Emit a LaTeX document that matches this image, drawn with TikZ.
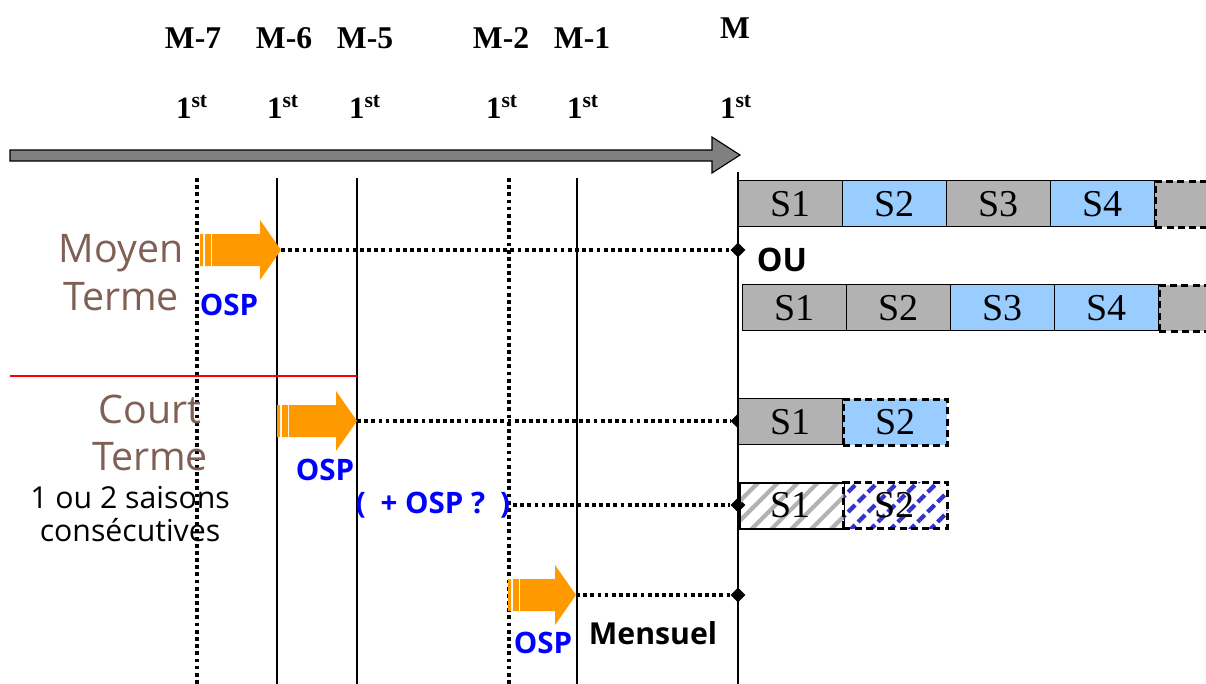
\documentclass[tikz,border=0pt]{standalone}
\usepackage{fontspec}
\setmainfont{Liberation Serif}
\newfontfamily\sansf{Open Sans}
\usetikzlibrary{shapes.geometric,patterns.meta}

\definecolor{segris}{HTML}{B2B2B2}
\definecolor{sebleu}{HTML}{99CCFF}
\definecolor{osporange}{HTML}{FF9900}
\definecolor{termebrun}{HTML}{806055}
\definecolor{hachbleu}{HTML}{3333CC}

\tikzset{
  saison/.style={draw, line width=0.9pt, anchor=north west, inner sep=0pt,
    minimum width=2.6cm, minimum height=1.15cm,
    font=\fontsize{27}{27}\selectfont},
  gris/.style={saison, fill=segris},
  bleu/.style={saison, fill=sebleu},
  suite/.style={saison, fill=segris, line width=2pt, dash pattern=on 5pt off 3pt},
  mois/.style={font=\bfseries\fontsize{22.5}{22.5}\selectfont},
  jour/.style={font=\bfseries\fontsize{22}{22}\selectfont},
  pointille/.style={line width=2.7pt, dash pattern=on 2.7pt off 2.4pt},
  repere/.style={diamond, fill=black, inner sep=0pt, minimum size=0.38cm},
  osplabel/.style={text=blue, font=\sansf\bfseries\fontsize{21}{21}\selectfont},
}

% orange arrow: start x, tip x, y
\newcommand\osp[3]{%
  \fill[osporange] (#1,#3-16) rectangle ++(3,32)
    (#1+5,#3-16) rectangle ++(6,32)
    (#1+12,#3-16) -- (#2-21,#3-16) -- (#2-21,#3-30) -- (#2,#3)
    -- (#2-21,#3+30) -- (#2-21,#3+16) -- (#1+12,#3+16) -- cycle;}

\begin{document}
\begin{tikzpicture}[x=0.025cm, y=-0.025cm]
  \clip (0,0) rectangle (1206,684);

  % time axis
  \draw[fill=gray, line width=0.8pt] (10,150) -- (712,150) -- (712,137) -- (740,155)
    -- (712,173) -- (712,161) -- (10,161) -- cycle;

  \foreach \x/\m/\yy in {193/M-7/38, 284/M-6/38, 365/M-5/38, 501/M-2/38, 582/M-1/38, 735/M/28}{
    \node[mois] at (\x,\yy) {\m};
  }
  \foreach \x in {192,283,365,502,583,736}{
    \node[jour] at (\x,107) {1\textsuperscript{st}};
  }

  % month lines
  \foreach \x in {197,509}{
    \draw[pointille] (\x,178) -- (\x,684);
  }
  \foreach \x in {277,357,577}{
    \draw[line width=2.1pt] (\x,178) -- (\x,684);
  }
  \draw[line width=2.1pt] (738,172) -- (738,684);

  \draw[red, line width=1pt] (10,376) -- (357,376);

  % labels
  \node[text=termebrun, align=center, font=\sansf\fontsize{28}{34}\selectfont] (moyen) at (121,273) {Moyen\\Terme};
  \node[text=termebrun, align=center, font=\sansf\fontsize{28}{34}\selectfont] (court) at (150,433) {Court\\Terme};
  \node[align=center, font=\sansf\fontsize{21.5}{24}\selectfont] (saisons) at (130,514) {1 ou 2 saisons\\consécutives};

  % OSP arrows
  \osp{200}{281}{250}
  \osp{277}{357}{421}
  \osp{508}{576}{595}
  \coordinate (tipA) at (281,250);
  \coordinate (tipB) at (357,421);
  \coordinate (tipC) at (513,505);
  \coordinate (tipD) at (576,595);

  \node[osplabel] (ospA) at (229,305) {OSP};
  \node[osplabel] (ospB) at (325,470) {OSP};
  \node[osplabel] (ospC) at (433,505) {(\enspace+ OSP ?\enspace)};
  \node[osplabel] (ospD) at (543,643) {OSP};

  \node[repere] (dA) at (738,250) {};
  \node[repere] (dB) at (738,421) {};
  \node[repere] (dC) at (738,505) {};
  \node[repere] (dD) at (738,595) {};
  \foreach \a/\b in {tipA/dA, tipB/dB, tipC/dC, tipD/dD}{
    \draw[pointille] (\a) -- (\b);
  }

  \node[font=\sansf\bfseries\fontsize{23}{23}\selectfont] (ou) at (782,260) {OU};
  \node[font=\sansf\bfseries\fontsize{21.5}{21.5}\selectfont] (mensuel) at (653,633) {Mensuel};

  % seasons, medium term
  \node[gris] (a1) at (738,180) {S1};
  \node[bleu] (a2) at (842,180) {S2};
  \node[gris] (a3) at (946,180) {S3};
  \node[bleu] (a4) at (1050,180) {S4};
  \node[suite] (a5) at (1154,180) {};

  \node[gris] (b1) at (742,284) {S1};
  \node[gris] (b2) at (846,284) {S2};
  \node[bleu] (b3) at (950,284) {S3};
  \node[bleu] (b4) at (1054,284) {S4};
  \node[suite] (b5) at (1158,284) {};

  % seasons, short term
  \node[gris] (c1) at (738,398) {S1};
  \node[bleu, line width=2pt, dash pattern=on 5pt off 3pt] (c2) at (842,398) {S2};

  \node[saison, fill=white, pattern={Lines[angle=45, distance=10pt, line width=3pt]}, pattern color=segris] (d1) at (738,481) {};
  \node[saison, draw=none] at (738,481) {S1};
  \node[saison, fill=white, line width=2pt, dash pattern=on 5pt off 3pt, pattern={Lines[angle=45, distance=10pt, line width=3pt]}, pattern color=hachbleu] (d2) at (842,481) {};
  \node[saison, draw=none] at (842,481) {S2};
\end{tikzpicture}
\end{document}
